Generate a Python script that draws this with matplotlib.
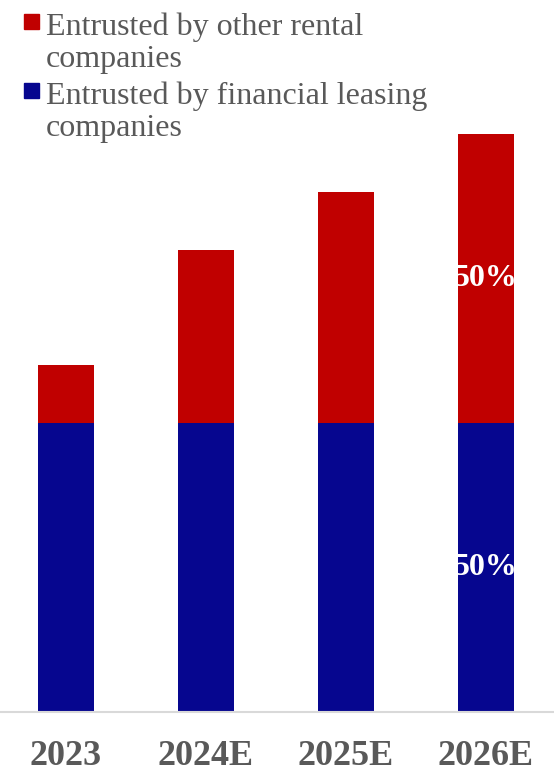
import matplotlib.pyplot as plt
import numpy as np
from matplotlib.patches import Rectangle

plt.rcParams['font.family'] = ['Liberation Serif', 'DejaVu Serif']

years = ['2023', '2024E', '2025E', '2026E']
leasing = [100, 100, 100, 100]
rental = [20, 60, 80, 100]
rental_labels = ['', '', '', '50%']
leasing_labels = ['', '', '', '50%']
legend_names = ['Entrusted by other rental\ncompanies',
                'Entrusted by financial leasing\ncompanies']

red = '#C00000'
blue = '#06068F'
grey = '#595959'

W, H = 554, 771
fig = plt.figure(figsize=(W / 100, H / 100), dpi=100)
ax = fig.add_axes([0, 59 / H, 1, 712 / H])

x = np.arange(len(years))
b1 = ax.bar(x, leasing, width=0.4, color=blue)
b2 = ax.bar(x, rental, width=0.4, bottom=leasing, color=red)

ax.bar_label(b1, labels=leasing_labels, label_type='center', color='white',
             fontsize=23, fontweight='bold')
ax.bar_label(b2, labels=rental_labels, label_type='center', color='white',
             fontsize=23, fontweight='bold')

ax.set_xlim(-66 / 140, 488 / 140)
ax.set_ylim(0, 712 / 289 * 100)
ax.set_xticks(x)
ax.set_xticklabels(years, fontsize=26, fontweight='bold', color=grey)
ax.tick_params(axis='x', length=0, pad=20)
ax.set_yticks([])
for side in ['top', 'right', 'left']:
    ax.spines[side].set_visible(False)
ax.spines['bottom'].set_color('#D9D9D9')
ax.spines['bottom'].set_linewidth(1.5)

# legend drawn by hand so the square sits on the first line of each label
baselines = [35, 104]
for name, color, base in zip(legend_names, [red, blue], baselines):
    fig.patches.append(Rectangle((24 / W, 1 - (base - 6) / H), 15 / W, 15 / H,
                                 transform=fig.transFigure, color=color))
    for i, line in enumerate(name.split('\n')):
        fig.text(46 / W, 1 - (base + 32 * i) / H, line, fontsize=23,
                 color=grey, va='baseline', ha='left')

fig.savefig('out.png', dpi=100)
